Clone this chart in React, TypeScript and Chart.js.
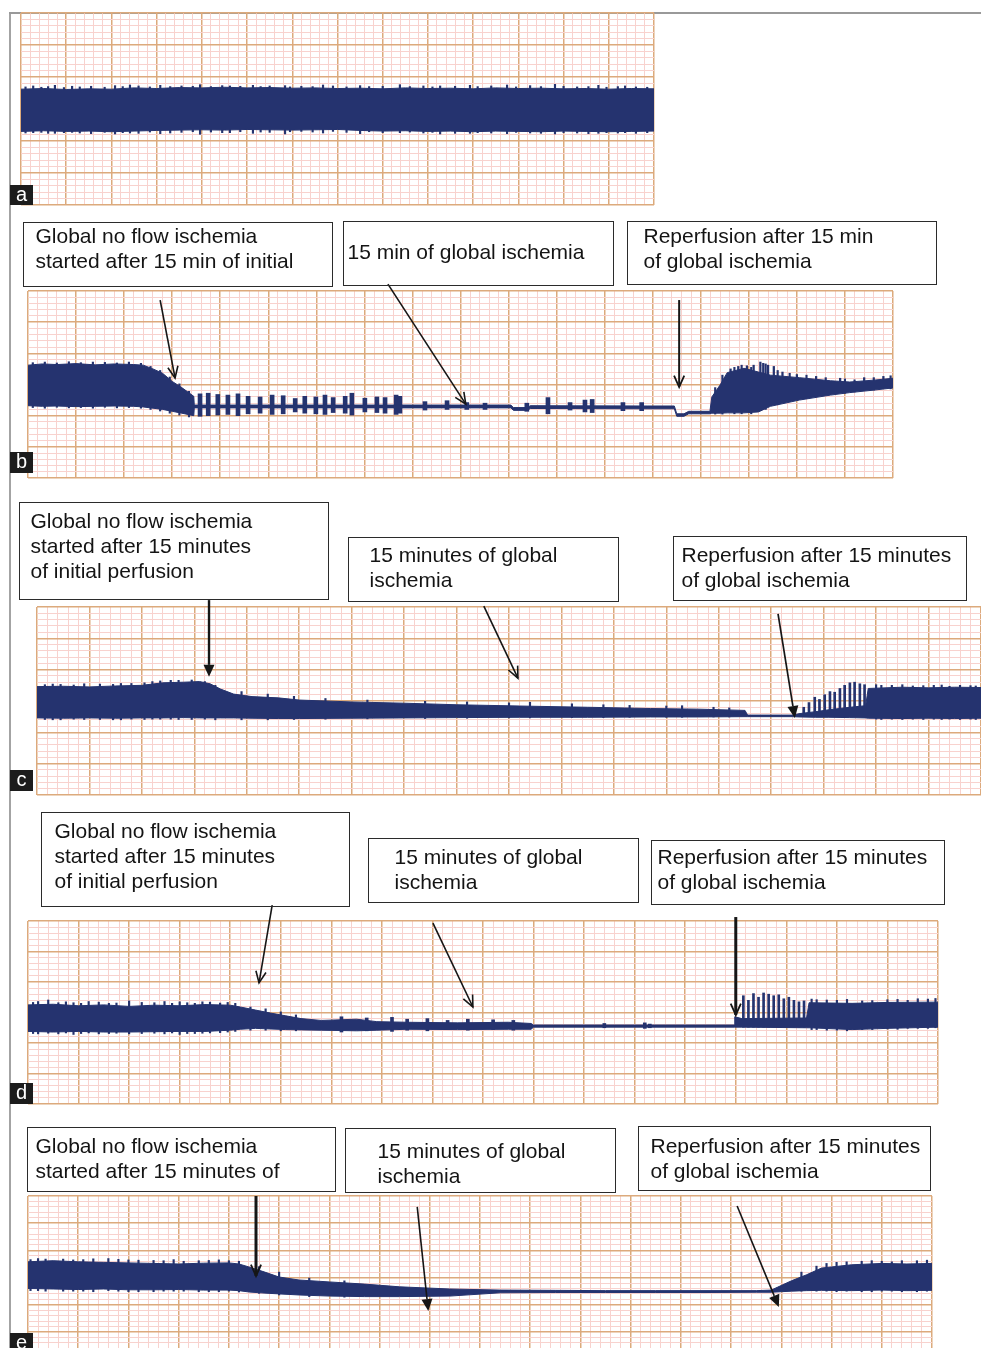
import React, { useEffect, useRef } from "react";
import { Chart, registerables } from "chart.js";

Chart.register(...registerables);

const NAVY = "#25336f";
const GRID_MAJOR = "#dcaa7c";
const GRID_MINOR = "#f8d2ce";
const INK = "#161616";
const FONT = '"Liberation Sans", Arial, Helvetica, sans-serif';

// ---------- strip a (x in major divisions, y in major divisions) ----------
const aX = [0, 0.5, 1, 1.5, 2, 2.5, 3, 3.5, 4, 4.5, 5, 5.5, 6, 6.5, 7, 7.5, 8, 8.5, 9, 9.5, 10, 10.5, 11, 11.5, 12, 12.5, 13, 13.5, 14];
const aUpper = [3.62, 3.64, 3.61, 3.63, 3.62, 3.66, 3.64, 3.67, 3.66, 3.68, 3.66, 3.67, 3.65, 3.66, 3.64, 3.65, 3.63, 3.66, 3.64, 3.65, 3.63, 3.66, 3.64, 3.65, 3.63, 3.64, 3.62, 3.64, 3.63];
const aLower = [2.30, 2.32, 2.30, 2.31, 2.29, 2.31, 2.33, 2.34, 2.35, 2.34, 2.36, 2.35, 2.34, 2.35, 2.36, 2.33, 2.31, 2.32, 2.30, 2.31, 2.29, 2.31, 2.30, 2.29, 2.31, 2.30, 2.29, 2.30, 2.31];
const aSpikeX = [0.27, 0.75, 1.13, 2.08, 2.41, 3.08, 3.96, 4.62, 5.13, 5.84, 6.68, 7.5, 8.38, 9.27, 9.93, 10.75, 11.26, 11.81, 12.77, 13.36];
const aSpikeHi = [3.72, 3.74, 3.71, 3.73, 3.75, 3.74, 3.76, 3.72, 3.74, 3.73, 3.75, 3.73, 3.76, 3.72, 3.74, 3.75, 3.73, 3.77, 3.74, 3.72];
const aSpikeLo = [2.26, 2.24, 2.27, 2.22, 2.25, 2.23, 2.21, 2.26, 2.24, 2.22, 2.25, 2.23, 2.26, 2.22, 2.24, 2.23, 2.25, 2.22, 2.24, 2.26];
const aFuzzX = [0.1, 0.45, 0.6, 0.95, 1.3, 1.55, 1.85, 2.25, 2.6, 2.85, 3.3, 3.55, 3.8, 4.2, 4.45, 4.85, 5.3, 5.5, 5.95, 6.2, 6.45, 6.9, 7.2, 7.7, 8.0, 8.6, 8.9, 9.1, 9.6, 10.1, 10.4, 10.95, 11.5, 12.0, 12.3, 12.55, 12.95, 13.2, 13.6, 13.85];
const aFuzzHi = [3.69, 3.68, 3.70, 3.67, 3.69, 3.71, 3.68, 3.70, 3.72, 3.69, 3.70, 3.72, 3.71, 3.70, 3.73, 3.71, 3.70, 3.72, 3.69, 3.71, 3.70, 3.72, 3.69, 3.70, 3.71, 3.70, 3.72, 3.69, 3.71, 3.70, 3.72, 3.69, 3.70, 3.71, 3.69, 3.70, 3.68, 3.70, 3.69, 3.68];
const aFuzzLo = [2.25, 2.27, 2.24, 2.26, 2.25, 2.23, 2.27, 2.26, 2.24, 2.28, 2.25, 2.27, 2.29, 2.28, 2.26, 2.29, 2.28, 2.27, 2.29, 2.30, 2.28, 2.30, 2.27, 2.29, 2.26, 2.28, 2.25, 2.27, 2.24, 2.26, 2.25, 2.27, 2.24, 2.26, 2.25, 2.23, 2.26, 2.25, 2.24, 2.26];

// ---------- strip b ----------
const bX = [0, 0.3, 0.6, 1.0, 1.4, 1.8, 2.2, 2.4, 2.6, 2.8, 3.0, 3.2, 3.45, 3.46, 5.0, 7.0, 9.5, 10.05, 10.1, 10.4, 10.45, 12.9, 13.45, 13.5, 13.65, 13.75, 14.19, 14.23, 14.4, 14.55, 14.9, 15.2, 15.45, 16.05, 16.7, 17.1, 17.6, 18];
const bUpper = [3.62, 3.66, 3.64, 3.67, 3.63, 3.66, 3.64, 3.62, 3.50, 3.36, 3.10, 2.90, 2.62, 2.34, 2.34, 2.34, 2.34, 2.34, 2.26, 2.26, 2.32, 2.31, 2.31, 2.06, 2.06, 2.14, 2.14, 2.60, 2.98, 3.38, 3.52, 3.40, 3.30, 3.22, 3.12, 3.08, 3.14, 3.20];
const bLower = [2.32, 2.30, 2.31, 2.29, 2.30, 2.31, 2.30, 2.28, 2.24, 2.20, 2.14, 2.08, 2.00, 2.25, 2.25, 2.25, 2.25, 2.25, 2.17, 2.17, 2.23, 2.22, 2.22, 1.98, 1.98, 2.06, 2.06, 2.08, 2.08, 2.09, 2.09, 2.12, 2.30, 2.50, 2.66, 2.74, 2.82, 2.89];
const bBurstX = [3.58, 3.75, 3.95, 4.16, 4.37, 4.58, 4.83, 5.08, 5.31, 5.56, 5.76, 5.99, 6.18, 6.35, 6.60, 6.74, 7.01, 7.26, 7.43, 7.66, 7.74, 8.26, 8.72, 9.13, 9.51, 10.38, 10.82, 11.28, 11.59, 11.74, 12.38, 12.77];
const bBurstHi = [2.70, 2.72, 2.68, 2.66, 2.70, 2.62, 2.60, 2.66, 2.64, 2.55, 2.62, 2.60, 2.66, 2.58, 2.62, 2.72, 2.56, 2.60, 2.58, 2.66, 2.62, 2.45, 2.48, 2.42, 2.40, 2.40, 2.58, 2.42, 2.50, 2.52, 2.42, 2.42];
const bBurstLo = [1.98, 2.00, 2.02, 2.04, 2.00, 2.06, 2.08, 2.04, 2.06, 2.12, 2.08, 2.06, 2.04, 2.10, 2.08, 2.02, 2.12, 2.10, 2.08, 2.04, 2.08, 2.18, 2.20, 2.20, 2.20, 2.14, 2.06, 2.18, 2.12, 2.10, 2.16, 2.16];
const bSpikeX = [14.62, 14.78, 14.96, 15.10, 15.24, 15.30, 15.40, 15.52, 15.70, 16.0, 16.4, 16.9, 17.4, 17.8];
const bSpikeHi = [3.50, 3.58, 3.60, 3.62, 3.72, 3.68, 3.62, 3.58, 3.40, 3.32, 3.26, 3.20, 3.22, 3.26];
const bSpikeLo = [2.2, 2.2, 2.2, 2.2, 2.2, 2.3, 2.3, 2.4, 2.5, 2.6, 2.7, 2.8, 2.9, 2.9];
const bFuzzX = [0.1, 0.35, 0.6, 0.85, 1.1, 1.35, 1.6, 1.85, 2.1, 2.35, 2.55, 2.75, 2.95, 3.15, 3.35, 14.3, 14.45, 14.7, 14.85, 15.05, 15.35, 15.6, 15.85, 16.2, 16.6, 17.0, 17.2, 17.6, 17.95];
const bFuzzHi = [3.70, 3.72, 3.69, 3.73, 3.70, 3.72, 3.71, 3.69, 3.72, 3.68, 3.58, 3.45, 3.24, 3.02, 2.78, 2.90, 3.30, 3.55, 3.62, 3.55, 3.66, 3.45, 3.36, 3.30, 3.22, 3.18, 3.15, 3.22, 3.28];
const bFuzzLo = [2.26, 2.24, 2.27, 2.25, 2.26, 2.24, 2.27, 2.25, 2.26, 2.24, 2.20, 2.15, 2.08, 2.02, 1.96, 2.05, 2.05, 2.06, 2.06, 2.06, 2.20, 2.35, 2.45, 2.55, 2.66, 2.72, 2.76, 2.82, 2.86];

// ---------- strip c ----------
const cX = [0, 0.5, 1, 1.5, 2, 2.4, 2.8, 3.1, 3.3, 3.5, 3.75, 4.1, 4.6, 5.0, 6.0, 7.0, 8.0, 9.2, 10.5, 11.7, 12.6, 13.5, 13.55, 14.4, 14.55, 14.85, 15.1, 15.5, 15.8, 15.85, 16.5, 17.0, 17.5, 18];
const cUpper = [3.46, 3.47, 3.45, 3.48, 3.50, 3.58, 3.60, 3.62, 3.55, 3.38, 3.22, 3.14, 3.10, 3.03, 2.97, 2.93, 2.88, 2.84, 2.80, 2.76, 2.74, 2.70, 2.55, 2.55, 2.60, 2.66, 2.72, 2.80, 2.85, 3.40, 3.44, 3.42, 3.44, 3.43];
const cLower = [2.46, 2.45, 2.46, 2.45, 2.46, 2.46, 2.47, 2.46, 2.46, 2.46, 2.46, 2.45, 2.44, 2.44, 2.45, 2.46, 2.47, 2.48, 2.48, 2.49, 2.49, 2.50, 2.50, 2.50, 2.49, 2.48, 2.48, 2.47, 2.46, 2.45, 2.44, 2.45, 2.44, 2.45];
const cSpikeX = [0.3, 0.9, 1.6, 2.2, 2.7, 3.4, 3.9, 4.4, 4.9, 5.5, 6.3, 7.4, 8.2, 9.0, 9.4, 10.2, 10.8, 11.3, 12.0, 12.3, 12.9, 13.2, 16.0, 16.3, 16.7, 17.1, 17.4, 17.8];
const cSpikeHi = [3.54, 3.55, 3.56, 3.62, 3.66, 3.50, 3.30, 3.22, 3.15, 3.08, 3.03, 2.99, 2.97, 2.94, 2.96, 2.91, 2.88, 2.86, 2.84, 2.85, 2.80, 2.78, 3.52, 3.50, 3.48, 3.50, 3.47, 3.49];
const cSpikeLo = [2.40, 2.41, 2.40, 2.42, 2.41, 2.40, 2.40, 2.40, 2.41, 2.42, 2.43, 2.44, 2.45, 2.46, 2.46, 2.47, 2.47, 2.48, 2.48, 2.48, 2.49, 2.49, 2.42, 2.42, 2.42, 2.42, 2.42, 2.42];
const cFuzzX = [0.15, 0.45, 0.7, 1.2, 1.45, 1.8, 2.05, 2.35, 2.55, 2.95, 3.2, 16.1, 16.5, 16.9, 17.25, 17.6, 17.9];
const cFuzzHi = [3.52, 3.53, 3.51, 3.54, 3.53, 3.56, 3.58, 3.64, 3.66, 3.67, 3.62, 3.50, 3.52, 3.49, 3.51, 3.50, 3.48];
const cFuzzLo = [2.41, 2.40, 2.42, 2.41, 2.40, 2.42, 2.41, 2.42, 2.42, 2.41, 2.42, 2.41, 2.41, 2.41, 2.41, 2.41, 2.41];
const cRepX = [14.62, 14.72, 14.83, 14.92, 15.02, 15.12, 15.21, 15.31, 15.40, 15.50, 15.59, 15.69, 15.78];
const cRepHi = [2.80, 2.95, 3.12, 3.05, 3.20, 3.30, 3.28, 3.40, 3.50, 3.58, 3.60, 3.55, 3.52];
const cRepLo = [2.50, 2.50, 2.50, 2.50, 2.50, 2.50, 2.50, 2.50, 2.50, 2.50, 2.50, 2.50, 2.50];

// ---------- strip d ----------
const dX = [0, 0.5, 1, 1.5, 2, 2.5, 3, 3.5, 4.0, 4.2, 4.5, 4.8, 5.1, 5.4, 5.8, 6.5, 6.9, 7.5, 8.5, 9.5, 9.95, 10.0, 11, 12, 13, 13.97, 13.98, 14.12, 15.4, 15.45, 16.3, 17, 18];
const dUpper = [3.25, 3.27, 3.22, 3.25, 3.20, 3.24, 3.22, 3.26, 3.24, 3.18, 3.08, 2.98, 2.89, 2.80, 2.74, 2.78, 2.70, 2.68, 2.66, 2.68, 2.64, 2.59, 2.59, 2.59, 2.59, 2.59, 2.86, 2.80, 2.82, 3.32, 3.30, 3.33, 3.34];
const dLower = [2.38, 2.36, 2.38, 2.36, 2.36, 2.37, 2.38, 2.38, 2.42, 2.45, 2.48, 2.46, 2.44, 2.43, 2.42, 2.40, 2.42, 2.45, 2.44, 2.45, 2.45, 2.52, 2.52, 2.52, 2.52, 2.52, 2.52, 2.52, 2.50, 2.50, 2.44, 2.48, 2.52];
const dSpikeX = [0.2, 0.4, 0.9, 1.2, 1.6, 2.0, 2.5, 3.0, 3.3, 3.6, 4.1, 4.4, 4.7, 5.0, 5.3, 15.6, 16.0, 16.5, 17.0, 17.4, 17.8, 17.95];
const dSpikeHi = [3.36, 3.41, 3.32, 3.36, 3.30, 3.38, 3.32, 3.35, 3.30, 3.34, 3.30, 3.18, 3.12, 3.02, 2.92, 3.42, 3.40, 3.38, 3.42, 3.40, 3.44, 3.46];
const dSpikeLo = [2.30, 2.32, 2.28, 2.33, 2.31, 2.30, 2.32, 2.28, 2.31, 2.33, 2.38, 2.42, 2.42, 2.40, 2.40, 2.44, 2.42, 2.44, 2.46, 2.48, 2.48, 2.50];
const dFuzzX = [0.1, 0.6, 0.75, 1.05, 1.4, 1.75, 2.25, 2.7, 2.85, 3.15, 3.45, 3.8, 3.95, 15.5, 15.8, 16.2, 16.7, 17.2, 17.6];
const dFuzzHi = [3.33, 3.32, 3.35, 3.30, 3.34, 3.31, 3.33, 3.36, 3.30, 3.32, 3.35, 3.31, 3.33, 3.44, 3.41, 3.43, 3.39, 3.43, 3.45];
const dFuzzLo = [2.31, 2.30, 2.33, 2.31, 2.30, 2.32, 2.31, 2.30, 2.33, 2.31, 2.32, 2.34, 2.36, 2.44, 2.42, 2.40, 2.44, 2.45, 2.48];
const dBurstX = [6.2, 6.7, 7.2, 7.5, 7.9, 8.3, 8.7, 9.2, 9.6, 11.4, 12.2, 12.3];
const dBurstHi = [2.86, 2.82, 2.84, 2.78, 2.80, 2.74, 2.78, 2.76, 2.74, 2.64, 2.66, 2.62];
const dBurstLo = [2.36, 2.40, 2.38, 2.42, 2.40, 2.44, 2.42, 2.44, 2.42, 2.50, 2.48, 2.50];
const dRepX = [14.15, 14.25, 14.35, 14.45, 14.55, 14.65, 14.75, 14.85, 14.95, 15.05, 15.15, 15.25, 15.35];
const dRepHi = [3.55, 3.40, 3.62, 3.50, 3.64, 3.60, 3.55, 3.58, 3.45, 3.50, 3.40, 3.35, 3.38];
const dRepLo = [2.52, 2.52, 2.52, 2.52, 2.52, 2.52, 2.52, 2.52, 2.52, 2.52, 2.52, 2.52, 2.52];

// ---------- strip e ----------
const eX = [0, 0.5, 1, 1.5, 2, 2.5, 3, 3.5, 4.0, 4.2, 4.4, 4.7, 5.0, 5.4, 6.0, 6.7, 7.4, 8.4, 9.4, 10.5, 11.5, 12.5, 13.5, 14.5, 14.8, 15.2, 15.5, 15.8, 16.4, 17, 17.5, 18];
const eUpper = [3.58, 3.62, 3.58, 3.56, 3.54, 3.52, 3.50, 3.53, 3.54, 3.50, 3.39, 3.21, 3.02, 2.91, 2.84, 2.76, 2.66, 2.58, 2.54, 2.53, 2.52, 2.52, 2.52, 2.52, 2.54, 2.88, 3.10, 3.35, 3.47, 3.52, 3.50, 3.52];
const eLower = [2.60, 2.58, 2.56, 2.58, 2.55, 2.55, 2.56, 2.54, 2.54, 2.52, 2.47, 2.43, 2.40, 2.36, 2.32, 2.30, 2.30, 2.32, 2.44, 2.45, 2.45, 2.45, 2.45, 2.46, 2.46, 2.50, 2.52, 2.53, 2.52, 2.54, 2.52, 2.53];
const eSpikeX = [0.2, 0.7, 1.1, 1.6, 2.2, 2.9, 3.4, 4.0, 4.6, 5.0, 5.6, 6.3, 15.4, 15.7, 16.1, 16.6, 17.2, 17.7];
const eSpikeHi = [3.70, 3.68, 3.66, 3.70, 3.64, 3.66, 3.62, 3.62, 3.40, 3.20, 2.98, 2.88, 3.20, 3.42, 3.56, 3.60, 3.58, 3.62];
const eSpikeLo = [2.52, 2.50, 2.50, 2.52, 2.48, 2.50, 2.48, 2.50, 2.42, 2.36, 2.30, 2.28, 2.50, 2.50, 2.48, 2.48, 2.50, 2.48];
const eFuzzX = [0.05, 0.35, 0.9, 1.3, 1.8, 2.0, 2.5, 2.7, 3.1, 3.6, 3.8, 4.2, 15.9, 16.3, 16.8, 17.0, 17.4, 17.9];
const eFuzzHi = [3.66, 3.68, 3.65, 3.69, 3.67, 3.65, 3.63, 3.62, 3.60, 3.63, 3.65, 3.60, 3.52, 3.58, 3.62, 3.60, 3.62, 3.64];
const eFuzzLo = [2.52, 2.50, 2.50, 2.48, 2.50, 2.48, 2.48, 2.50, 2.50, 2.48, 2.48, 2.47, 2.50, 2.50, 2.48, 2.50, 2.48, 2.50];

// ---------- annotation arrows (data units; tails sit above the grid) ----------
type Arrow = { from: number[]; to: number[]; head: "open" | "filled"; w: number };
const bArrows: Arrow[] = [
  { from: [2.75, 5.71], to: [3.06, 3.21], head: "open", w: 1.6 },
  { from: [7.49, 6.22], to: [9.11, 2.37], head: "open", w: 1.6 },
  { from: [13.55, 5.71], to: [13.55, 2.92], head: "open", w: 2 },
];
const cArrows: Arrow[] = [
  { from: [3.28, 6.22], to: [3.28, 3.77], head: "filled", w: 2.4 },
  { from: [8.52, 6.03], to: [9.17, 3.73], head: "open", w: 1.6 },
  { from: [14.13, 5.78], to: [14.45, 2.46], head: "filled", w: 1.7 },
];
const dArrows: Arrow[] = [
  { from: [4.83, 6.52], to: [4.57, 3.97], head: "open", w: 1.6 },
  { from: [8.01, 5.93], to: [8.80, 3.18], head: "open", w: 1.6 },
  { from: [14.0, 6.13], to: [14.0, 2.92], head: "open", w: 3 },
];
const eArrows: Arrow[] = [
  { from: [4.54, 6.0], to: [4.54, 3.06], head: "open", w: 3 },
  { from: [7.75, 5.6], to: [7.97, 1.77], head: "filled", w: 1.6 },
  { from: [14.12, 5.63], to: [14.95, 1.92], head: "filled", w: 1.6 },
];

type Marks = { x: number[]; lo: number[]; hi: number[]; w: number };
type Panel = {
  top: number;
  height: number;
  pad: { left: number; right: number; top: number; bottom: number };
  xMax: number;
  yMin: number;
  yMax: number;
  x: number[];
  upper: number[];
  lower: number[];
  marks: Marks[];
  arrows: Arrow[];
};

const panels: Panel[] = [
  {
    top: 0, height: 215, pad: { left: 21, right: 327, top: 13, bottom: 10 },
    xMax: 14, yMin: 0, yMax: 6, x: aX, upper: aUpper, lower: aLower,
    marks: [
      { x: aSpikeX, lo: aSpikeLo, hi: aSpikeHi, w: 1.5 },
      { x: aFuzzX, lo: aFuzzLo, hi: aFuzzHi, w: 1.5 },
    ],
    arrows: [],
  },
  {
    top: 215, height: 270, pad: { left: 28, right: 88, top: 76, bottom: 7 },
    xMax: 18, yMin: 0, yMax: 6, x: bX, upper: bUpper, lower: bLower,
    marks: [
      { x: bBurstX, lo: bBurstLo, hi: bBurstHi, w: 4 },
      { x: bSpikeX, lo: bSpikeLo, hi: bSpikeHi, w: 1.6 },
      { x: bFuzzX, lo: bFuzzLo, hi: bFuzzHi, w: 1.5 },
    ],
    arrows: bArrows,
  },
  {
    top: 490, height: 310, pad: { left: 37, right: 0, top: 117, bottom: 5 },
    xMax: 18, yMin: 0, yMax: 6, x: cX, upper: cUpper, lower: cLower,
    marks: [
      { x: cSpikeX, lo: cSpikeLo, hi: cSpikeHi, w: 1.5 },
      { x: cFuzzX, lo: cFuzzLo, hi: cFuzzHi, w: 1.5 },
      { x: cRepX, lo: cRepLo, hi: cRepHi, w: 2 },
    ],
    arrows: cArrows,
  },
  {
    top: 805, height: 305, pad: { left: 28, right: 43, top: 116, bottom: 6 },
    xMax: 18, yMin: 0, yMax: 6, x: dX, upper: dUpper, lower: dLower,
    marks: [
      { x: dSpikeX, lo: dSpikeLo, hi: dSpikeHi, w: 1.5 },
      { x: dFuzzX, lo: dFuzzLo, hi: dFuzzHi, w: 1.5 },
      { x: dBurstX, lo: dBurstLo, hi: dBurstHi, w: 3 },
      { x: dRepX, lo: dRepLo, hi: dRepHi, w: 2 },
    ],
    arrows: dArrows,
  },
  {
    top: 1115, height: 233, pad: { left: 28, right: 49, top: 81, bottom: 0 },
    xMax: 18, yMin: 0.41, yMax: 6, x: eX, upper: eUpper, lower: eLower,
    marks: [
      { x: eSpikeX, lo: eSpikeLo, hi: eSpikeHi, w: 1.5 },
      { x: eFuzzX, lo: eFuzzLo, hi: eFuzzHi, w: 1.5 },
    ],
    arrows: eArrows,
  },
];

// ---------- text annotations ----------
const boxes = [
  { l: 23, t: 222, w: 310, h: 65, pl: 13, pt: 1, lh: 24.5, text: "Global no flow ischemia\nstarted after 15 min of initial" },
  { l: 343, t: 221, w: 271, h: 65, pl: 5, pt: 18, lh: 24.5, text: "15 min of global ischemia" },
  { l: 627, t: 221, w: 310, h: 64, pl: 17, pt: 2, lh: 24.5, text: "Reperfusion after 15 min\nof global ischemia" },
  { l: 19, t: 502, w: 310, h: 98, pl: 12, pt: 5, lh: 25, text: "Global no flow ischemia\nstarted after 15 minutes\nof initial perfusion" },
  { l: 348, t: 537, w: 271, h: 65, pl: 22, pt: 4, lh: 25, text: "15 minutes of global\nischemia" },
  { l: 673, t: 536, w: 294, h: 65, pl: 9, pt: 5, lh: 25, text: "Reperfusion after 15 minutes\nof global ischemia" },
  { l: 41, t: 812, w: 309, h: 95, pl: 14, pt: 5, lh: 25, text: "Global no flow ischemia\nstarted after 15 minutes\nof initial perfusion" },
  { l: 368, t: 838, w: 271, h: 65, pl: 27, pt: 5, lh: 25, text: "15 minutes of global\nischemia" },
  { l: 651, t: 840, w: 294, h: 65, pl: 7, pt: 3, lh: 25, text: "Reperfusion after 15 minutes\nof global ischemia" },
  { l: 27, t: 1127, w: 309, h: 65, pl: 9, pt: 5, lh: 25, text: "Global no flow ischemia\nstarted after 15 minutes of" },
  { l: 345, t: 1128, w: 271, h: 65, pl: 33, pt: 9, lh: 25, text: "15 minutes of global\nischemia" },
  { l: 638, t: 1126, w: 293, h: 65, pl: 13, pt: 6, lh: 25, text: "Reperfusion after 15 minutes\nof global ischemia" },
];

const panelLabels = [
  { ch: "a", t: 185, h: 20 },
  { ch: "b", t: 452, h: 21 },
  { ch: "c", t: 770, h: 21 },
  { ch: "d", t: 1083, h: 21 },
  { ch: "e", t: 1333, h: 21 },
];

function gridTicks(min: number, max: number) {
  const out: { value: number; major: boolean }[] = [];
  const start = Math.ceil(min * 5 - 1e-6);
  const end = Math.floor(max * 5 + 1e-6);
  for (let i = start; i <= end; i++) out.push({ value: i / 5, major: i % 5 === 0 });
  return out;
}

function drawArrow(ctx: CanvasRenderingContext2D, x1: number, y1: number, x2: number, y2: number, head: string, w: number) {
  const ang = Math.atan2(y2 - y1, x2 - x1);
  ctx.save();
  ctx.strokeStyle = INK;
  ctx.fillStyle = INK;
  ctx.lineWidth = w;
  if (head === "filled") {
    const L = 12;
    const hw = 5.5;
    const bx = x2 - L * Math.cos(ang);
    const by = y2 - L * Math.sin(ang);
    ctx.beginPath();
    ctx.moveTo(x1, y1);
    ctx.lineTo(bx, by);
    ctx.stroke();
    const nx = -Math.sin(ang);
    const ny = Math.cos(ang);
    ctx.beginPath();
    ctx.moveTo(x2, y2);
    ctx.lineTo(bx + nx * hw, by + ny * hw);
    ctx.lineTo(bx - nx * hw, by - ny * hw);
    ctx.closePath();
    ctx.fill();
  } else {
    const L = 12.5;
    const a = 0.42;
    ctx.beginPath();
    ctx.moveTo(x1, y1);
    ctx.lineTo(x2, y2);
    ctx.stroke();
    ctx.lineWidth = Math.min(w, 1.8);
    ctx.beginPath();
    ctx.moveTo(x2 - L * Math.cos(ang - a), y2 - L * Math.sin(ang - a));
    ctx.lineTo(x2, y2);
    ctx.lineTo(x2 - L * Math.cos(ang + a), y2 - L * Math.sin(ang + a));
    ctx.stroke();
  }
  ctx.restore();
}

function buildConfig(p: Panel): any {
  const axis = (min: number, max: number) => ({
    type: "linear",
    min,
    max,
    offset: false,
    ticks: { display: false },
    border: { display: false },
    grid: {
      drawTicks: false,
      offset: false,
      color: (c: any) => (c.tick && c.tick.major ? GRID_MAJOR : GRID_MINOR),
      lineWidth: (c: any) => (c.tick && c.tick.major ? 1.5 : 1),
    },
    afterBuildTicks: (s: any) => {
      s.ticks = gridTicks(min, max);
    },
  });
  const datasets: any[] = [
    {
      type: "line",
      data: p.x.map((x, i) => ({ x, y: p.upper[i] })),
      borderColor: NAVY,
      backgroundColor: NAVY,
      borderWidth: 1,
      pointRadius: 0,
      tension: 0,
      fill: "+1",
    },
    {
      type: "line",
      data: p.x.map((x, i) => ({ x, y: p.lower[i] })),
      borderColor: NAVY,
      borderWidth: 1,
      pointRadius: 0,
      tension: 0,
      fill: false,
    },
    ...p.marks.map((m) => ({
      type: "bar",
      data: m.x.map((x, i) => ({ x, y: [m.lo[i], m.hi[i]] })),
      backgroundColor: NAVY,
      borderWidth: 0,
      barThickness: m.w,
      grouped: false,
    })),
  ];
  return {
    type: "line",
    data: { datasets },
    options: {
      animation: false,
      responsive: false,
      devicePixelRatio: 1,
      events: [],
      layout: { padding: p.pad },
      plugins: { legend: { display: false }, tooltip: { enabled: false } },
      scales: { x: axis(0, p.xMax), y: axis(p.yMin, p.yMax) },
    },
    plugins: [
      {
        id: "arrows",
        afterDraw(chart: any) {
          const xs = chart.scales.x;
          const ys = chart.scales.y;
          p.arrows.forEach((a) =>
            drawArrow(
              chart.ctx,
              xs.getPixelForValue(a.from[0]),
              ys.getPixelForValue(a.from[1]),
              xs.getPixelForValue(a.to[0]),
              ys.getPixelForValue(a.to[1]),
              a.head,
              a.w
            )
          );
        },
      },
    ],
  };
}

function Strip({ p }: { p: Panel }) {
  const ref = useRef<HTMLCanvasElement>(null);
  useEffect(() => {
    if (!ref.current) return;
    const chart = new Chart(ref.current, buildConfig(p));
    return () => chart.destroy();
  }, [p]);
  return (
    <canvas
      ref={ref}
      width={981}
      height={p.height}
      style={{ position: "absolute", left: 0, top: p.top, width: 981, height: p.height }}
    />
  );
}

export default function App() {
  return (
    <div
      style={{
        position: "absolute",
        left: 0,
        top: 0,
        width: 981,
        height: 1348,
        overflow: "hidden",
        background: "#fff",
        fontFamily: FONT,
      }}
    >
      <div style={{ position: "absolute", left: 9, top: 12, width: 2, height: 1336, background: "#a3a3a3" }} />
      <div style={{ position: "absolute", left: 9, top: 12, width: 972, height: 2, background: "#999" }} />
      {panels.map((p, i) => (
        <Strip key={i} p={p} />
      ))}
      {boxes.map((b, i) => (
        <div
          key={i}
          style={{
            position: "absolute",
            left: b.l,
            top: b.t,
            width: b.w,
            height: b.h,
            boxSizing: "border-box",
            border: "1.5px solid #2b2b2b",
            paddingLeft: b.pl - 1.5,
            paddingTop: b.pt,
            fontSize: 21,
            lineHeight: `${b.lh}px`,
            color: "#141414",
            whiteSpace: "pre",
            overflow: "hidden",
          }}
        >
          {b.text}
        </div>
      ))}
      {panelLabels.map((l) => (
        <div
          key={l.ch}
          style={{
            position: "absolute",
            left: 10,
            top: l.t,
            width: 23,
            height: l.h,
            background: "#1c1c1c",
            color: "#fff",
            fontSize: 20,
            lineHeight: `${l.h - 2}px`,
            textAlign: "center",
          }}
        >
          {l.ch}
        </div>
      ))}
    </div>
  );
}
